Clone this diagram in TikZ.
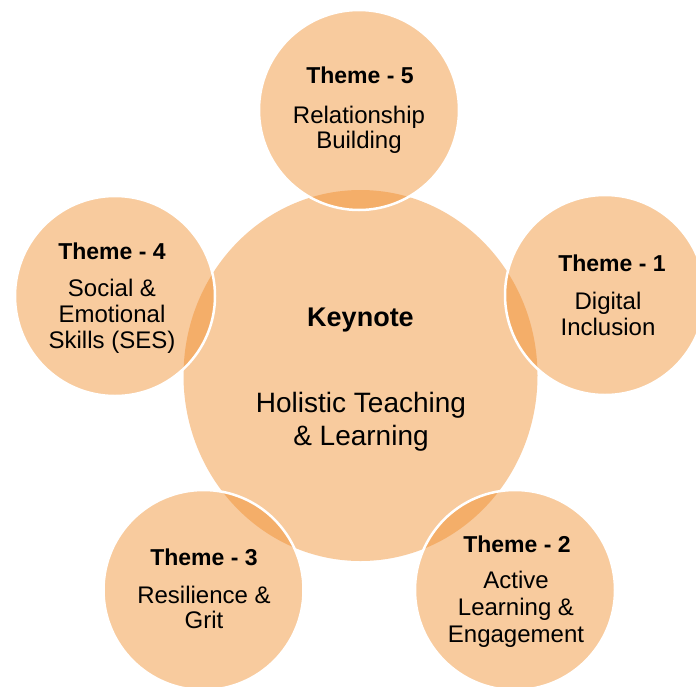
\documentclass[tikz,border=0pt]{standalone}
\usepackage{fontspec}
\setmainfont{Liberation Sans}
\usetikzlibrary{shapes.geometric}
\definecolor{accorange}{HTML}{F08C2A}
\begin{document}
\begin{tikzpicture}[x=1pt,y=-1pt,
  bubble/.style={circle, minimum size=200pt, inner sep=0pt, fill=accorange, fill opacity=0.45, draw=white, draw opacity=1, line width=2.5pt},
  hub/.style={ellipse, minimum width=354pt, minimum height=371pt, inner sep=0pt, fill=accorange, fill opacity=0.45},
  ttl/.style={anchor=base, font=\bfseries\fontsize{23}{27}\selectfont, inner sep=0pt},
  body/.style={anchor=base, font=\fontsize{24}{27}\selectfont, inner sep=0pt},
  keyttl/.style={anchor=base, font=\bfseries\fontsize{27}{30}\selectfont, inner sep=0pt},
  keybody/.style={anchor=base, font=\fontsize{28}{31}\selectfont, inner sep=0pt},
]
\useasboundingbox (0,0) rectangle (696,686);
\fill[white] (0,0) rectangle (696,686);
% hub
\node[hub] (key) at (360.5,375.5) {};
% bubbles
\node[bubble] (t5) at (359,110) {};
\node[bubble] (t1) at (605,295) {};
\node[bubble] (t4) at (115,296) {};
\node[bubble] (t3) at (203.5,590) {};
\node[bubble] (t2) at (515,590) {};
% hub text
\node[keyttl] (keyT) at (360.5,326) {Keynote};
\node[keybody] (keyB1) at (361,412) {Holistic Teaching};
\node[keybody] (keyB2) at (361,445) {\& Learning};
% theme 5
\node[ttl] (t5T) at (360,83) {Theme - 5};
\node[body] (t5B1) at (359,123) {Relationship};
\node[body] (t5B2) at (359,148) {Building};
% theme 1
\node[ttl] (t1T) at (612,271) {Theme - 1};
\node[body] (t1B1) at (608,309) {Digital};
\node[body] (t1B2) at (608,335) {Inclusion};
% theme 4
\node[ttl] (t4T) at (112,259) {Theme - 4};
\node[body] (t4B1) at (112,296) {Social \&};
\node[body] (t4B2) at (112,322) {Emotional};
\node[body] (t4B3) at (112,348) {Skills (SES)};
% theme 3
\node[ttl] (t3T) at (204,565) {Theme - 3};
\node[body] (t3B1) at (204,603) {Resilience \&};
\node[body] (t3B2) at (204,628) {Grit};
% theme 2
\node[ttl] (t2T) at (517,552) {Theme - 2};
\node[body] (t2B1) at (516,588) {Active};
\node[body] (t2B2) at (516,615) {Learning \&};
\node[body] (t2B3) at (516,642) {Engagement};
\end{tikzpicture}
\end{document}
